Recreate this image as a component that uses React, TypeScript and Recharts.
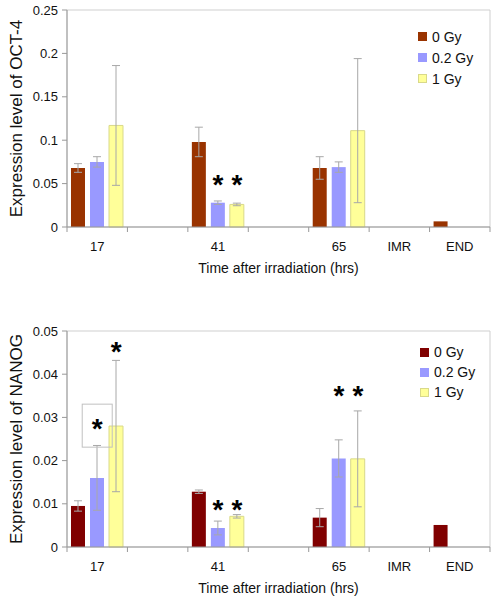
import React from "react";
import {
  BarChart,
  Bar,
  XAxis,
  YAxis,
  ErrorBar,
  ReferenceArea,
  ReferenceDot,
} from "recharts";

// the two empty slots are " " and "  " so the category axis keeps them apart
const categories = ["17", " ", "41", "  ", "65", "IMR", "END"];
const seriesNames = ["0 Gy", "0.2 Gy", "1 Gy"];

// OCT-4
const oct0 = [0.068, null, 0.098, null, 0.068, null, 0.0065];
const oct02 = [0.075, null, 0.028, null, 0.069, null, null];
const oct1 = [0.117, null, 0.026, null, 0.111, null, null];
const oct0Err = [0.005, null, 0.017, null, 0.013, null, null];
const oct02Err = [0.006, null, 0.002, null, 0.006, null, null];
const oct1Err = [0.069, null, 0.0015, null, 0.083, null, null];
const octTicks = [0, 0.05, 0.1, 0.15, 0.2, 0.25];
const octStars = [
  { cat: "41", series: 1, y: 0.0565 },
  { cat: "41", series: 2, y: 0.0565 },
];

// NANOG
const nanog0 = [0.0095, null, 0.0128, null, 0.0068, null, 0.0051];
const nanog02 = [0.016, null, 0.0044, null, 0.0205, null, null];
const nanog1 = [0.028, null, 0.0071, null, 0.0204, null, null];
const nanog0Err = [0.0012, null, 0.0004, null, 0.0021, null, null];
const nanog02Err = [0.0075, null, 0.0016, null, 0.0043, null, null];
const nanog1Err = [0.0152, null, 0.0004, null, 0.0111, null, null];
const nanogTicks = [0, 0.01, 0.02, 0.03, 0.04, 0.05];
const nanogStars = [
  { cat: "17", series: 2, y: 0.0467 },
  { cat: "17", series: 1, y: 0.0289, boxed: true },
  { cat: "41", series: 1, y: 0.0103 },
  { cat: "41", series: 2, y: 0.0103 },
  { cat: "65", series: 1, y: 0.0365 },
  { cat: "65", series: 2, y: 0.0365 },
];

const FONT = "Arial, 'Liberation Sans', sans-serif";
const W = 494;
const H = 300;
const LEFT = 67;
const RIGHT = 4;
const BAR = 14;
const GAP = 5;

type Star = { cat: string; series: number; y: number; boxed?: boolean };

interface PanelProps {
  values: (number | null)[][];
  errors: (number | null)[][];
  colors: string[];
  ticks: number[];
  yTitle: string;
  top: number;
  axisY: number;
  legendTop: number;
  legendLeft: number;
  legendStep: number;
  stars: Star[];
}

function Panel(props: PanelProps) {
  const { values, errors, colors, ticks, yTitle, top, axisY, stars } = props;
  const data = categories.map((cat, i) => ({
    cat,
    v0: values[0][i],
    v1: values[1][i],
    v2: values[2][i],
    e0: errors[0][i],
    e1: errors[1][i],
    e2: errors[2][i],
  }));
  const bw = (W - LEFT - RIGHT) / categories.length;
  const maxY = ticks[ticks.length - 1];

  const renderTick = (p: any) => {
    const { x, y, payload, index } = p;
    return (
      <g>
        <text
          x={x}
          y={y + 19}
          textAnchor="middle"
          dominantBaseline="central"
          fontSize={13}
          fontFamily={FONT}
          fill="#111"
        >
          {payload.value}
        </text>
        <line x1={x - bw / 2} x2={x - bw / 2} y1={y} y2={y + 5} stroke="#999" />
        {index === categories.length - 1 && (
          <line x1={x + bw / 2} x2={x + bw / 2} y1={y} y2={y + 5} stroke="#999" />
        )}
      </g>
    );
  };

  return (
    <div style={{ position: "relative", width: W, height: H }}>
      <BarChart
        width={W}
        height={H}
        data={data}
        margin={{ top, right: RIGHT, bottom: 0, left: 0 }}
        barGap={GAP}
      >
        <ReferenceArea y1={0} y2={maxY} fill="none" stroke="#cfcfcf" strokeWidth={1} />
        <XAxis
          dataKey="cat"
          height={H - axisY}
          tickSize={0}
          tickMargin={0}
          tickLine={false}
          stroke="#999"
          interval={0}
          tick={renderTick}
          label={{
            value: "Time after irradiation (hrs)",
            position: "insideTop",
            offset: 36,
            fontSize: 14,
            fontFamily: FONT,
            fill: "#111",
          }}
        />
        <YAxis
          type="number"
          domain={[0, maxY]}
          ticks={ticks}
          width={LEFT}
          tickSize={5}
          tickMargin={4}
          stroke="#999"
          tick={{ fontSize: 13, fontFamily: FONT, fill: "#111" }}
          label={{
            value: yTitle,
            angle: -90,
            position: "center",
            dx: -18,
            fontSize: 17,
            fontFamily: FONT,
            fill: "#111",
          }}
        />
        {[0, 1, 2].map((s) => (
          <Bar
            key={s}
            dataKey={`v${s}`}
            name={seriesNames[s]}
            fill={colors[s]}
            stroke={s === 2 ? "#d9d98a" : "none"}
            barSize={BAR}
            isAnimationActive={false}
          >
            <ErrorBar
              dataKey={`e${s}`}
              width={4}
              stroke="#a8a8a8"
              strokeWidth={1}
              direction="y"
              isAnimationActive={false}
            />
          </Bar>
        ))}
        {stars.map((st, i) => (
          <ReferenceDot
            key={i}
            x={st.cat}
            y={st.y}
            r={0}
            ifOverflow="visible"
            shape={(p: any) => {
              const cx = p.cx + (st.series - 1) * (BAR + GAP);
              const cy = p.cy;
              return (
                <g>
                  {st.boxed && (
                    <rect x={cx - 15} y={cy - 18} width={30} height={43} fill="none" stroke="#c0c0c0" />
                  )}
                  <text
                    x={cx}
                    y={cy + 16}
                    textAnchor="middle"
                    fontSize={28}
                    fontWeight="bold"
                    fontFamily={FONT}
                    fill="#000"
                  >
                    *
                  </text>
                </g>
              );
            }}
          />
        ))}
      </BarChart>
      <div
        style={{
          position: "absolute",
          left: props.legendLeft,
          top: props.legendTop,
          fontFamily: FONT,
          fontSize: 14,
          color: "#111",
        }}
      >
        {seriesNames.map((n, i) => (
          <div key={n} style={{ display: "flex", alignItems: "center", height: props.legendStep }}>
            <span
              style={{
                display: "inline-block",
                width: 9,
                height: 9,
                background: colors[i],
                border: i === 2 ? "1px solid #d9d98a" : "none",
                boxSizing: "border-box",
                marginRight: 5,
              }}
            />
            <span>{n}</span>
          </div>
        ))}
      </div>
    </div>
  );
}

export default function App() {
  return (
    <div style={{ position: "absolute", left: 0, top: 0, width: W, height: 599, background: "#fff" }}>
      <Panel
        values={[oct0, oct02, oct1]}
        errors={[oct0Err, oct02Err, oct1Err]}
        colors={["#993300", "#9999ff", "#ffff99"]}
        ticks={octTicks}
        yTitle="Expression level of OCT-4"
        top={10}
        axisY={227}
        legendTop={26}
        legendLeft={418}
        legendStep={21}
        stars={octStars}
      />
      <Panel
        values={[nanog0, nanog02, nanog1]}
        errors={[nanog0Err, nanog02Err, nanog1Err]}
        colors={["#800000", "#9999ff", "#ffff99"]}
        ticks={nanogTicks}
        yTitle="Expression level of NANOG"
        top={31}
        axisY={247}
        legendTop={42}
        legendLeft={420}
        legendStep={20}
        stars={nanogStars}
      />
    </div>
  );
}
